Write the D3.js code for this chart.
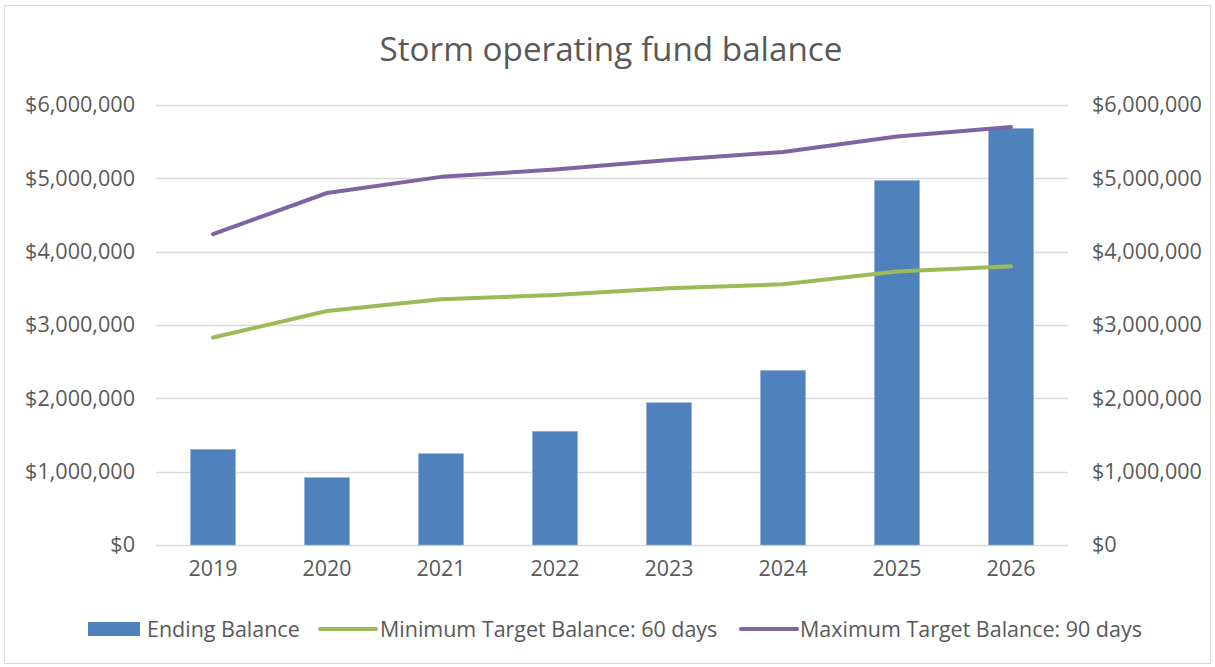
<!DOCTYPE html>
<html>
<head>
<meta charset="utf-8">
<script src="https://cdn.jsdelivr.net/npm/d3@7"></script>
<style>
  html, body { margin: 0; padding: 0; background: #fff; }
  svg { display: block; }
  text { font-family: "Open Sans", "Noto Sans", sans-serif; fill: #595959; }
</style>
</head>
<body>
<svg id="chart" width="1215" height="667"></svg>
<script>
const title = "Storm operating fund balance";
const years = ["2019", "2020", "2021", "2022", "2023", "2024", "2025", "2026"];
const endingBalance = [1305000, 918000, 1245000, 1550000, 1940000, 2380000, 4970000, 5680000];
const minTarget = [2830000, 3190000, 3350000, 3410000, 3500000, 3555000, 3730000, 3800000];
const maxTarget = [4240000, 4800000, 5020000, 5120000, 5250000, 5360000, 5570000, 5700000];
const yTicks = [0, 1000000, 2000000, 3000000, 4000000, 5000000, 6000000];
const seriesNames = ["Ending Balance", "Minimum Target Balance: 60 days", "Maximum Target Balance: 90 days"];
const colors = ["#4f81bd", "#9bbb59", "#8064a2"];

const svg = d3.select("#chart");
const W = 1215, H = 667;
const plot = { left: 156, right: 1068, top: 105, bottom: 545 };

svg.append("rect").attr("width", W).attr("height", H).attr("fill", "#fff");
svg.append("rect").attr("x", 4.5).attr("y", 5.5).attr("width", 1206).attr("height", 658)
  .attr("fill", "none").attr("stroke", "#d9d9d9").attr("stroke-width", 1);

// fit font size so a reference string has the given width
function fitSize(str, target) {
  const t = svg.append("text").attr("font-size", 100).text(str);
  const w = t.node().getComputedTextLength();
  t.remove();
  return 100 * target / w;
}
const axisFont = fitSize("$6,000,000", 110);
const yearFont = fitSize("2019", 49);
const legendFont = (fitSize("Ending Balance", 151) + fitSize("Maximum Target Balance: 90 days", 346)) / 2;
const titleFont = fitSize(title, 463);

const x = d3.scaleBand().domain(years).range([plot.left, plot.right])
  .paddingInner(0.605).paddingOuter(0.3025);
const y = d3.scaleLinear().domain([0, 6000000]).range([plot.bottom, plot.top]);
const fmt = v => "$" + d3.format(",")(v);

// gridlines
svg.append("g").selectAll("line").data(yTicks).join("line")
  .attr("x1", plot.left).attr("x2", plot.right)
  .attr("y1", d => Math.round(y(d)) + 0.5).attr("y2", d => Math.round(y(d)) + 0.5)
  .attr("stroke", "#d9d9d9").attr("stroke-width", 1.3);

// left axis
const leftAxis = d3.axisLeft(y).tickValues(yTicks).tickFormat(fmt).tickSize(0).tickPadding(21);
const gl = svg.append("g").attr("transform", `translate(${plot.left},0)`).call(leftAxis);
gl.select(".domain").remove();
gl.selectAll("text").attr("font-size", axisFont).attr("fill", "#595959")
  .style("font-family", '"Open Sans", "Noto Sans", sans-serif');

// right axis
const rightAxis = d3.axisRight(y).tickValues(yTicks).tickFormat(fmt).tickSize(0).tickPadding(24);
const gr = svg.append("g").attr("transform", `translate(${plot.right},0)`).call(rightAxis);
gr.select(".domain").remove();
gr.selectAll("text").attr("font-size", axisFont).attr("fill", "#595959")
  .style("font-family", '"Open Sans", "Noto Sans", sans-serif');

// bottom axis
const bottomAxis = d3.axisBottom(x).tickSize(0).tickPadding(16);
const gb = svg.append("g").attr("transform", `translate(0,${plot.bottom})`).call(bottomAxis);
gb.select(".domain").remove();
gb.selectAll("text").attr("font-size", yearFont).attr("fill", "#595959")
  .style("font-family", '"Open Sans", "Noto Sans", sans-serif');

// bars
svg.append("g").selectAll("rect").data(endingBalance).join("rect")
  .attr("x", (d, i) => x(years[i]))
  .attr("width", x.bandwidth())
  .attr("y", d => y(d))
  .attr("height", d => y(0) - y(d))
  .attr("fill", colors[0])
  .attr("stroke", "#8fb0d8").attr("stroke-width", 0.6);

// lines
const line = d3.line()
  .x((d, i) => x(years[i]) + x.bandwidth() / 2)
  .y(d => y(d));
[minTarget, maxTarget].forEach((s, k) => {
  svg.append("path").datum(s).attr("d", line)
    .attr("fill", "none").attr("stroke", colors[k + 1])
    .attr("stroke-width", 4).attr("stroke-linecap", "round").attr("stroke-linejoin", "round");
});

// title
svg.append("text").attr("x", 611).attr("y", 61).attr("text-anchor", "middle")
  .attr("font-size", titleFont).text(title);

// legend
const ly = 629;
const lg = svg.append("g");
lg.append("rect").attr("x", 88).attr("y", ly - 7).attr("width", 52).attr("height", 14).attr("fill", colors[0]);
lg.append("text").attr("x", 147).attr("y", ly).attr("dy", "0.35em").attr("font-size", legendFont).text(seriesNames[0]);
const legendLines = [{ x1: 320, x2: 376, tx: 380 }, { x1: 741, x2: 797, tx: 800 }];
legendLines.forEach((l, k) => {
  lg.append("line").attr("x1", l.x1).attr("x2", l.x2).attr("y1", ly).attr("y2", ly)
    .attr("stroke", colors[k + 1]).attr("stroke-width", 4.2).attr("stroke-linecap", "round");
  lg.append("text").attr("x", l.tx).attr("y", ly).attr("dy", "0.35em")
    .attr("font-size", legendFont).text(seriesNames[k + 1]);
});
</script>
</body>
</html>
